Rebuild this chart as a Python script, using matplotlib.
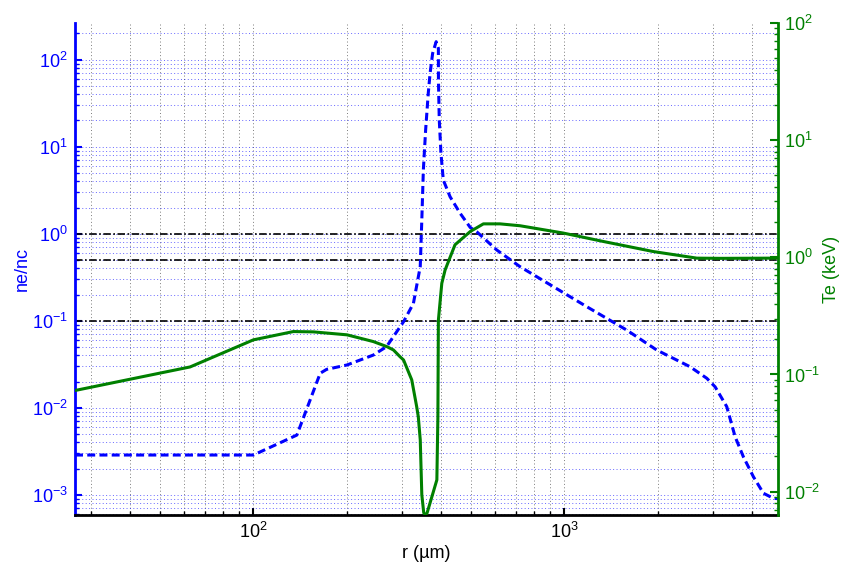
import matplotlib
matplotlib.use("Agg")
import matplotlib.pyplot as plt
from matplotlib.ticker import LogLocator, NullFormatter, LogFormatterSciNotation

plt.rcParams['font.family'] = ['Liberation Sans', 'DejaVu Sans']
plt.rcParams['mathtext.default'] = 'regular'

# electron density profile, ne/nc vs r (um)
r_ne = [26.7, 100, 138, 164, 172, 200, 243, 268, 304, 327, 344, 348, 352, 358,
        365, 370, 377, 387, 393.4, 393.6, 396, 401, 408, 429, 462, 498, 523, 606,
        720, 922, 1180, 1587, 1982, 2535, 2870, 3052, 3327, 3540, 3763, 4053,
        4365, 4699, 4875]
ne = [2.86e-3, 2.86e-3, 4.85e-3, 0.0249, 0.0276, 0.031, 0.0403, 0.0503, 0.0974,
      0.158, 0.42, 1.44, 5.4, 15.6, 41, 70, 118, 161, 135, 58, 20.3, 8.4, 4.14,
      2.66, 1.72, 1.18, 1.05, 0.65, 0.418, 0.246, 0.145, 0.078, 0.046, 0.0296,
      0.0218, 0.0174, 0.0103, 4.64e-3, 2.73e-3, 1.61e-3, 1.04e-3, 9.1e-4, 9.0e-4]

# electron temperature, keV
r_te = [26.7, 62.6, 100, 134.5, 156, 200, 243, 268.5, 282, 296, 304, 323, 335,
        339, 344, 348, 353, 357, 362, 389, 392, 393.4, 403.5, 413.5, 445, 498,
        549, 621, 720, 993, 1335, 1932, 2666, 3168, 4699, 4875]
te = [0.073, 0.116, 0.1975, 0.2325, 0.231, 0.218, 0.191, 0.173, 0.162, 0.142,
      0.133, 0.090, 0.0532, 0.0437, 0.0277, 9.4e-3, 6.6e-3, 6.3e-3, 6.6e-3,
      0.0126, 0.0437, 0.29, 0.60, 0.78, 1.28, 1.66, 1.93, 1.93, 1.86, 1.61,
      1.365, 1.12, 0.984, 0.98, 0.984, 0.99]

# critical-density fractions
ne_levels = [1.0, 0.5, 0.1]

blue = '#0000ff'
green = '#008000'

fig = plt.figure(figsize=(8.44, 5.65), dpi=100)
ax = fig.add_axes([0.0889, 0.0885, 0.8333, 0.8708])
ax2 = ax.twinx()

ax.set_xscale('log')
ax.set_yscale('log')
ax2.set_yscale('log')

ax.grid(True, which='both', axis='x', color='#444444', ls=(0, (1, 2.5)), lw=0.7, alpha=0.7)
ax.grid(True, which='both', axis='y', color=blue, ls=(0, (1, 2.5)), lw=0.7, alpha=0.6)

for lev in ne_levels:
    ax.axhline(lev, color='black', ls=(0, (4.5, 1.5, 1, 1.5)), lw=1.2)

ax.plot(r_ne, ne, color=blue, lw=2.2, dashes=(2.6, 1.4))
ax2.plot(r_te, te, color=green, lw=2.2)

ax.set_xlim(26.7, 4875)
ax.set_ylim(5.85e-4, 264)
ax2.set_ylim(6.32e-3, 100)

for a in (ax, ax2):
    a.spines['top'].set_visible(False)
ax.spines['right'].set_visible(False)
ax2.spines['left'].set_visible(False)
ax2.spines['bottom'].set_visible(False)
ax.spines['left'].set_color(blue)
ax.spines['left'].set_linewidth(2)
ax.spines['bottom'].set_linewidth(2)
ax2.spines['right'].set_color(green)
ax2.spines['right'].set_linewidth(2)

ax.xaxis.set_major_locator(LogLocator(base=10, numticks=10))
ax.xaxis.set_minor_locator(LogLocator(base=10, subs=range(2, 10), numticks=20))
ax.xaxis.set_major_formatter(LogFormatterSciNotation())
ax.xaxis.set_minor_formatter(NullFormatter())
for a in (ax, ax2):
    a.yaxis.set_major_locator(LogLocator(base=10, numticks=10))
    a.yaxis.set_minor_locator(LogLocator(base=10, subs=range(2, 10), numticks=20))
    a.yaxis.set_minor_formatter(NullFormatter())

ax.tick_params(axis='x', which='both', direction='in', colors='black', labelsize=13, pad=5)
ax.tick_params(axis='x', which='major', length=5, width=1.5)
ax.tick_params(axis='x', which='minor', length=3, width=1)
ax.tick_params(axis='y', which='both', direction='in', colors=blue, labelsize=13, pad=5)
ax.tick_params(axis='y', which='major', length=5, width=1.5)
ax.tick_params(axis='y', which='minor', length=3, width=1)
ax2.tick_params(axis='y', which='both', direction='in', colors=green, labelsize=13, pad=4)
ax2.tick_params(axis='y', which='major', length=6, width=1.5)
ax2.tick_params(axis='y', which='minor', length=3, width=1)

ax.set_xlabel('r (µm)', fontsize=13, labelpad=2)
ax.set_ylabel('ne/nc', fontsize=13, color=blue, labelpad=1)
ax2.set_ylabel('Te (keV)', fontsize=13, color=green, labelpad=2)

fig.savefig('out.png', dpi=100)
